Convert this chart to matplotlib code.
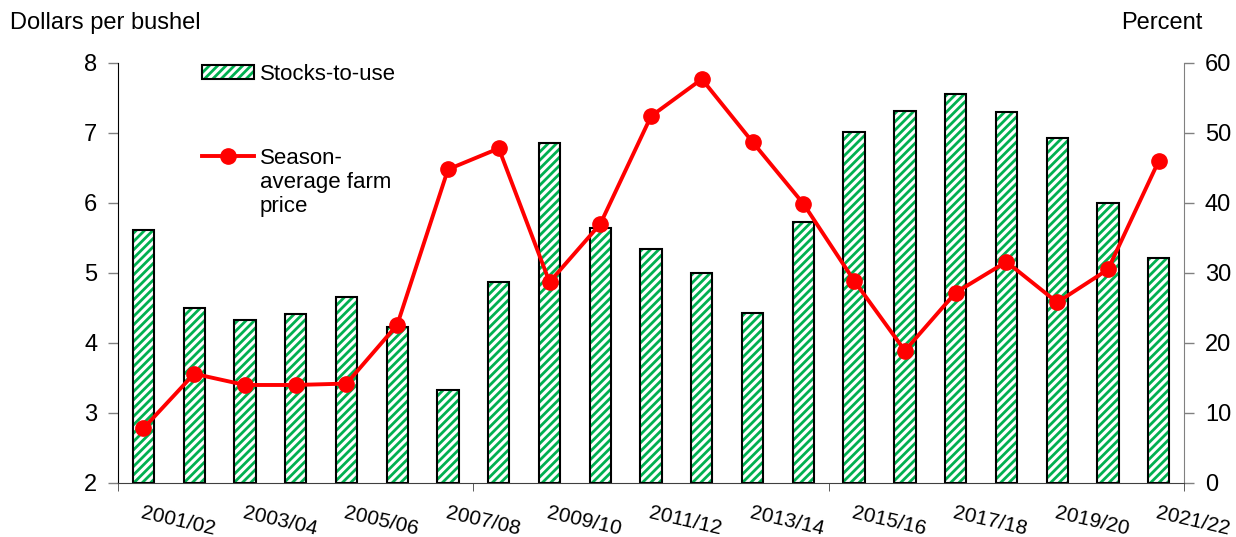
import matplotlib.pyplot as plt
from matplotlib.legend_handler import HandlerLine2D, HandlerTuple
from matplotlib.patches import Patch
from matplotlib.lines import Line2D

plt.rcParams['font.family'] = ['Liberation Sans', 'DejaVu Sans']
plt.rcParams['hatch.linewidth'] = 2.0

years = ['2001/02', '2002/03', '2003/04', '2004/05', '2005/06', '2006/07', '2007/08',
         '2008/09', '2009/10', '2010/11', '2011/12', '2012/13', '2013/14', '2014/15',
         '2015/16', '2016/17', '2017/18', '2018/19', '2019/20', '2020/21', '2021/22']
stocks_to_use = [36.1, 25.0, 23.3, 24.2, 26.5, 22.3, 13.3, 28.7, 48.6, 36.4, 33.4,
                 30.0, 24.3, 37.3, 50.1, 53.2, 55.6, 53.0, 49.3, 40.0, 32.2]
price = [2.78, 3.56, 3.40, 3.40, 3.42, 4.26, 6.48, 6.78, 4.87, 5.70, 7.24,
         7.77, 6.87, 5.99, 4.89, 3.89, 4.72, 5.16, 4.58, 5.05, 6.60]

green = '#00B050'
red = '#FF0000'
x = list(range(len(years)))

fig = plt.figure(figsize=(12.36, 5.37), dpi=100)
ax = fig.add_axes([0.0955, 0.1006, 0.8625, 0.7821])
ax2 = ax.twinx()

# bars on right (percent) axis: hatch layer, then black outline
ax2.bar(x, stocks_to_use, width=0.42, color='white', edgecolor=green, hatch='////', linewidth=0)
ax2.bar(x, stocks_to_use, width=0.42, color='none', edgecolor='black', linewidth=1.5)
ax2.set_ylim(0, 60)
ax2.set_yticks(range(0, 61, 10))

# price line on left axis, drawn above bars
ax.set_zorder(ax2.get_zorder() + 1)
ax.patch.set_visible(False)
ax.plot(x, price, color=red, linewidth=2.8, marker='o', markersize=11)
ax.set_ylim(2, 8)
ax.set_yticks(range(2, 9))
ax.set_xlim(-0.5, len(years) - 0.5)

ax.set_xticks(x[::2])
ax.set_xticklabels(years[::2], rotation=-13, ha='left', rotation_mode='anchor', fontsize=15)
ax.tick_params(axis='x', which='major', length=0, pad=15)
ax.set_xticks([-0.5, 6.5, 13.5, 20.5], minor=True)
ax.tick_params(axis='x', which='minor', length=6, color='#404040')
ax.tick_params(axis='y', labelsize=17, length=7, width=1, color='#808080', pad=8)
ax2.tick_params(axis='y', labelsize=17, length=7, width=1, color='#808080', pad=8)

for a in (ax, ax2):
    a.spines['top'].set_visible(False)
ax.spines['right'].set_visible(False)
ax2.spines['left'].set_visible(False)
ax2.spines['bottom'].set_visible(False)
ax2.spines['right'].set_color('#808080')
ax.spines['bottom'].set_color('#404040')


class FirstLineHandler(HandlerLine2D):
    # keep the marker level with the first line of a multi-line label
    def create_artists(self, legend, orig_handle, xdescent, ydescent, width, height, fontsize, trans):
        return super().create_artists(legend, orig_handle, xdescent, ydescent - 2 * 1.2 * fontsize,
                                      width, height, fontsize, trans)


bar_handle = (Patch(facecolor='white', edgecolor=green, hatch='////', linewidth=0),
              Patch(facecolor='none', edgecolor='black', linewidth=1.5))
line_handle = Line2D([], [], color=red, linewidth=2.8, marker='o', markersize=11)
leg1 = ax.legend([bar_handle], ['Stocks-to-use'], loc='upper left', bbox_to_anchor=(0.06, 1.045),
                 frameon=False, fontsize=16, handlelength=2.35, handleheight=0.6, handletextpad=0.25,
                 handler_map={tuple: HandlerTuple(ndivide=1, pad=0)})
ax.add_artist(leg1)
ax.legend([line_handle], ['Season-\naverage farm\nprice'], loc='upper left', bbox_to_anchor=(0.06, 0.845),
          frameon=False, fontsize=16, handlelength=2.35, handletextpad=0.25, labelspacing=0.3,
          handler_map={Line2D: FirstLineHandler()})

fig.text(0.008, 0.958, 'Dollars per bushel', fontsize=17, va='center', ha='left')
fig.text(0.973, 0.958, 'Percent', fontsize=17, va='center', ha='right')

fig.savefig('out.png', dpi=100)
